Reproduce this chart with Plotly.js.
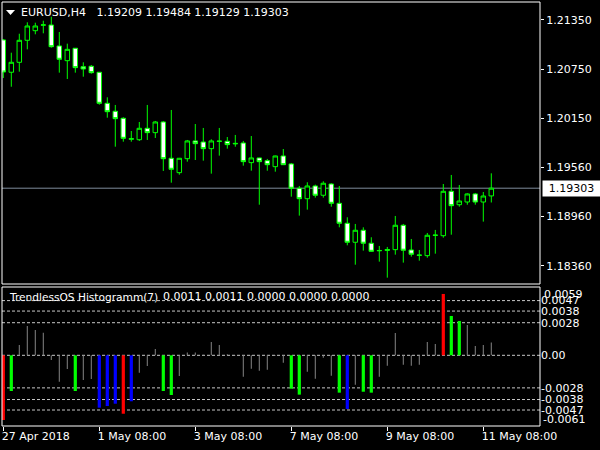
<!DOCTYPE html>
<html>
<head>
<meta charset="utf-8">
<script src="https://cdn.plot.ly/plotly-3.0.1.min.js"></script>
<style>html,body{margin:0;padding:0;background:#000;}#chart{width:600px;height:450px;}</style>
</head>
<body>
<div id="chart"></div>
<script>
// ---- price data (EURUSD H4, 62 bars, 27 Apr 2018 08:00 .. 11 May 2018 12:00) ----
const opens = [
1.21107, 1.20714, 1.20835, 1.21103, 1.21220, 1.21287, 1.21289, 1.21034, 1.20855, 1.21006,
1.20782, 1.20787, 1.20714, 1.20336, 1.20239, 1.20154, 1.19898, 1.19893, 1.20032, 1.19979,
1.20109, 1.19667, 1.19492, 1.19662, 1.19878, 1.19865, 1.19784, 1.19872, 1.19874, 1.19842,
1.19853, 1.19614, 1.19671, 1.19638, 1.19565, 1.19695, 1.19598, 1.19302, 1.19175, 1.19330,
1.19217, 1.19354, 1.19119, 1.18876, 1.18645, 1.18791, 1.18633, 1.18541, 1.18545, 1.18555,
1.18852, 1.18551, 1.18485, 1.18482, 1.18728, 1.18725, 1.19265, 1.19102, 1.19135, 1.19233,
1.19135, 1.19209];
const highs = [
1.21119, 1.20952, 1.21183, 1.21322, 1.21317, 1.21341, 1.21390, 1.21204, 1.21062, 1.21009,
1.20835, 1.20802, 1.20717, 1.20409, 1.20316, 1.20166, 1.19999, 1.20109, 1.20316, 1.20121,
1.20121, 1.20255, 1.19671, 1.19890, 1.20084, 1.20036, 1.19898, 1.20036, 1.19926, 1.19951,
1.19878, 1.19938, 1.19674, 1.19659, 1.19699, 1.19780, 1.19610, 1.19330, 1.19375, 1.19346,
1.19387, 1.19363, 1.19330, 1.18949, 1.18868, 1.18827, 1.18706, 1.18600, 1.18588, 1.18965,
1.18868, 1.18685, 1.18551, 1.18758, 1.18795, 1.19354, 1.19464, 1.19342, 1.19241, 1.19245,
1.19257, 1.19484];
const lows = [
1.20644, 1.20538, 1.20721, 1.20993, 1.21176, 1.21188, 1.21013, 1.20709, 1.20632, 1.20709,
1.20660, 1.20697, 1.20319, 1.20161, 1.19808, 1.19869, 1.19869, 1.19878, 1.19890, 1.19914,
1.19513, 1.19370, 1.19467, 1.19626, 1.19646, 1.19638, 1.19480, 1.19699, 1.19784, 1.19808,
1.19577, 1.19516, 1.19102, 1.19516, 1.19504, 1.19585, 1.19200, 1.18969, 1.19042, 1.19188,
1.19188, 1.19078, 1.18827, 1.18608, 1.18372, 1.18543, 1.18527, 1.18409, 1.18214, 1.18494,
1.18397, 1.18470, 1.18421, 1.18457, 1.18506, 1.18701, 1.18737, 1.19078, 1.19102, 1.19102,
1.18896, 1.19129];
const closes = [
1.20717, 1.20835, 1.21103, 1.21277, 1.21277, 1.21290, 1.21025, 1.20872, 1.20993, 1.20770,
1.20754, 1.20709, 1.20336, 1.20234, 1.20149, 1.19910, 1.19906, 1.20032, 1.19979, 1.20109,
1.19662, 1.19533, 1.19667, 1.19878, 1.19845, 1.19784, 1.19878, 1.19876, 1.19833, 1.19848,
1.19626, 1.19671, 1.19626, 1.19589, 1.19695, 1.19589, 1.19302, 1.19175, 1.19330, 1.19217,
1.19363, 1.19119, 1.18876, 1.18645, 1.18791, 1.18633, 1.18535, 1.18545, 1.18557, 1.18852,
1.18548, 1.18499, 1.18489, 1.18730, 1.18732, 1.19265, 1.19090, 1.19147, 1.19233, 1.19135,
1.19208, 1.19303];
const lastPrice = 1.19303;

// ---- TrendlessOS histogram ----
const histValues = [
-0.00556, -0.00307, 0.00088, 0.00252, 0.00217, 0.00194, -0.00040, -0.00227, -0.00118, -0.00307,
-0.00212, -0.00204, -0.00450, -0.00436, -0.00416, -0.00502, -0.00395, -0.00149, -0.00092, 0.00054,
-0.00307, -0.00341, -0.00178, 0.00025, 0.00025, 0.00005, 0.00114, 0.00088, 0.00010, 0.00003,
-0.00184, -0.00115, -0.00132, -0.00124, -0.00003, -0.00064, -0.00287, -0.00338, -0.00141, -0.00201,
-0.00020, -0.00175, -0.00321, -0.00461, -0.00253, -0.00313, -0.00321, -0.00184, -0.00089, 0.00191,
-0.00081, -0.00089, -0.00081, 0.00114, 0.00097, 0.00527, 0.00338, 0.00295, 0.00260, 0.00080,
0.00088, 0.00110];
// N = plain, G = green signal, B = blue signal, R = red signal
const histSignals = [
'R','G','N','N','N','N','N','N','N','G',
'N','N','B','B','B','R','B','N','N','N',
'G','G','N','N','N','N','N','N','N','N',
'N','N','N','N','N','N','G','G','N','N',
'N','N','G','B','N','G','G','N','N','N',
'N','N','N','N','N','R','G','G','N','N',
'N','N'];

// ---- axis labels ----
const timeTickIdx = [0, 12, 24, 36, 48, 60];
const timeTickText = ['27 Apr 2018', '1 May 08:00', '3 May 08:00', '7 May 08:00', '9 May 08:00', '11 May 08:00'];
const priceTicks = [1.21350, 1.20750, 1.20150, 1.19560, 1.18960, 1.18360];
const oscLevels = [0.0047, 0.0038, 0.0028, 0, -0.0028, -0.0038, -0.0047];
const oscLevelText = ['0.0047', '0.0038', '0.0028', '0.00', '-0.0028', '-0.0038', '-0.0047'];
const oscMax = 0.0059, oscMin = -0.0061;
const headerMain = 'EURUSD,H4\u00a0\u00a0\u00a01.19209 1.19484 1.19129 1.19303';
const headerOscName = 'TrendlessOS Histogramm(7)';
const headerOscVals = '0.0011 0.0011 0.0000 0.0000 0.0000';

// ---- build ----
const idx = opens.map((_, i) => i);
const sigColor = {N: '#808080', G: '#00ff00', B: '#0000ff', R: '#ff0000'};
const barColors = histSignals.map(s => sigColor[s]);
const barWidths = histSignals.map(s => s === 'N' ? 0.13 : 0.4);

const FONT = 'DejaVu Sans';
const W = 600, H = 450, ML = 2, MR = 60, MT = 2, MB = 24;
const PW = W - ML - MR, PH = H - MT - MB;
const px = x => (x - ML) / PW;         // pixel x -> paper
const py = y => (H - MB - y) / PH;     // pixel y -> paper
const mainBottom = py(284), oscTop = py(287);

const traces = [
  {
    type: 'candlestick', x: idx, open: opens, high: highs, low: lows, close: closes,
    xaxis: 'x', yaxis: 'y', whiskerwidth: 0, hoverinfo: 'skip',
    increasing: {line: {color: '#00ff00', width: 1}, fillcolor: '#000000'},
    decreasing: {line: {color: '#00ff00', width: 1}, fillcolor: '#ffffff'}
  },
  {
    type: 'bar', x: idx, y: histValues, xaxis: 'x', yaxis: 'y2', width: barWidths,
    marker: {color: barColors, line: {width: 0}}, hoverinfo: 'skip'
  }
];

const shapes = [];
oscLevels.forEach(v => shapes.push({
  type: 'line', xref: 'paper', x0: 0, x1: 1, yref: 'y2', y0: v, y1: v, layer: 'below',
  line: {color: '#c8c8c8', width: 1, dash: '3px,2px'}
}));
shapes.push({type: 'line', xref: 'paper', x0: 0, x1: 1, yref: 'y', y0: lastPrice, y1: lastPrice,
  layer: 'below', line: {color: '#7f8c9c', width: 1}});
shapes.push({type: 'rect', xref: 'paper', yref: 'paper', x0: 0, x1: 1, y0: mainBottom, y1: 1,
  line: {color: '#ffffff', width: 1}, layer: 'above'});
shapes.push({type: 'rect', xref: 'paper', yref: 'paper', x0: 0, x1: 1, y0: 0, y1: oscTop,
  line: {color: '#ffffff', width: 1}, layer: 'above'});
shapes.push({type: 'path', xref: 'paper', yref: 'paper',
  path: `M${px(6)},${py(10)} L${px(15)},${py(10)} L${px(10.5)},${py(15)} Z`,
  fillcolor: '#ffffff', line: {width: 0}});

const f = (size, color) => ({family: FONT, size: size, color: color || '#ffffff'});
const annotations = [
  {xref: 'paper', yref: 'paper', x: px(19), y: py(12), xanchor: 'left', yanchor: 'middle',
   text: headerMain, showarrow: false, font: f(11)},
  {xref: 'paper', yref: 'paper', x: px(7), y: py(297), xanchor: 'left', yanchor: 'middle',
   text: headerOscName, showarrow: false, font: f(10.6)},
  {xref: 'paper', yref: 'paper', x: px(161), y: py(297), xanchor: 'left', yanchor: 'middle',
   text: headerOscVals, showarrow: false, font: f(11)},
  {xref: 'paper', yref: 'paper', x: 1, xshift: 2, y: py(294), xanchor: 'left', yanchor: 'middle',
   text: oscMax.toFixed(4), showarrow: false, font: f(11)},
  {xref: 'paper', yref: 'paper', x: 1, xshift: 1, y: py(419), xanchor: 'left', yanchor: 'middle',
   text: oscMin.toFixed(4), showarrow: false, font: f(11)},
  {xref: 'paper', yref: 'y', x: 1, xshift: 2, y: lastPrice, xanchor: 'left', yanchor: 'middle',
   text: lastPrice.toFixed(5), showarrow: false, font: f(11, '#000000'),
   bgcolor: '#ffffff', width: 55, height: 13, borderpad: 1}
];

const layout = {
  width: W, height: H, paper_bgcolor: '#000000', plot_bgcolor: '#000000',
  margin: {l: ML, r: MR, t: MT, b: MB, pad: 0}, showlegend: false,
  font: f(11), boxgap: 0.2, boxgroupgap: 0.3,
  xaxis: {
    range: [(2 - 3.3) / 8, (540 - 3.3) / 8], anchor: 'y2',
    tickmode: 'array', tickvals: timeTickIdx, ticktext: timeTickText,
    ticks: 'outside', ticklen: 4, tickcolor: '#ffffff', ticklabelposition: 'outside right',
    ticklabelshift: -2,
    showgrid: false, zeroline: false, showline: false, rangeslider: {visible: false},
    tickfont: f(11)
  },
  yaxis: {
    domain: [mainBottom, 1], range: [1.18137, 1.21569], side: 'right', anchor: 'x',
    tickmode: 'array', tickvals: priceTicks, ticktext: priceTicks.map(v => v.toFixed(5)),
    ticks: 'outside', ticklen: 3, tickcolor: '#ffffff', showgrid: false, zeroline: false,
    showline: false, tickfont: f(11)
  },
  yaxis2: {
    domain: [0, oscTop], range: [-0.006074, 0.005868], side: 'right', anchor: 'x',
    tickmode: 'array', tickvals: oscLevels, ticktext: oscLevelText,
    ticks: '', showgrid: false, zeroline: false, showline: false, tickfont: f(11)
  },
  shapes: shapes, annotations: annotations
};

Plotly.newPlot('chart', traces, layout, {staticPlot: true, displayModeBar: false});
</script>
</body>
</html>
